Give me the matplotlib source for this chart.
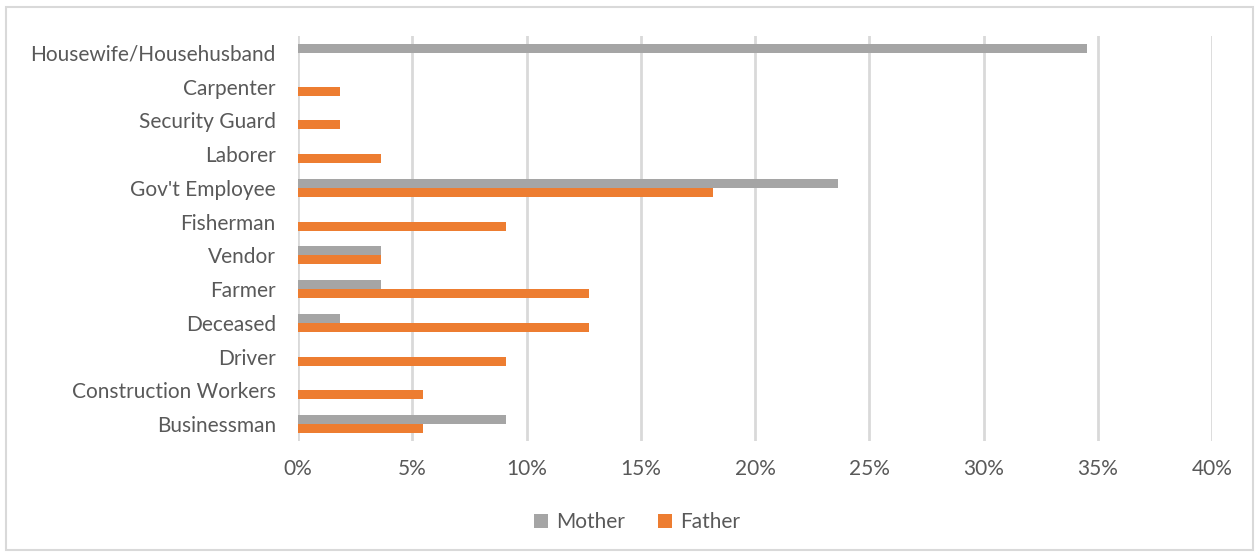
import matplotlib
matplotlib.use("Agg")
import matplotlib.pyplot as plt
import numpy as np
from matplotlib.patches import Rectangle
from matplotlib.ticker import FuncFormatter, MultipleLocator

categories = ["Businessman", "Construction Workers", "Driver", "Deceased", "Farmer",
              "Vendor", "Fisherman", "Gov't Employee", "Laborer", "Security Guard",
              "Carpenter", "Housewife/Househusband"]
mother = [9.09, 0, 0, 1.82, 3.64, 3.64, 0, 23.64, 0, 0, 0, 34.55]
father = [5.45, 5.45, 9.09, 12.73, 12.73, 3.64, 9.09, 18.18, 3.64, 1.82, 1.82, 0]

GRAY = "#A5A5A5"
ORANGE = "#ED7D31"
TEXT = "#595959"
GRID = "#D9D9D9"

plt.rcParams["font.family"] = ["Lato", "DejaVu Sans"]

fig = plt.figure(figsize=(12.59, 5.56), dpi=100)
fig.patches.append(Rectangle((6 / 1259, 6 / 556), 1247 / 1259, 543 / 556,
                             transform=fig.transFigure, fill=False,
                             edgecolor=GRID, linewidth=1.5))
ax = fig.add_axes([298 / 1259, 1 - 441 / 556, 914 / 1259, 405 / 556])

y = np.arange(len(categories))
h = 0.27
ax.barh(y + h / 2, mother, height=h, color=GRAY, label="Mother", zorder=3)
ax.barh(y - h / 2, father, height=h, color=ORANGE, label="Father", zorder=3)

ax.set_xlim(0, 40)
ax.set_ylim(-0.5, len(categories) - 0.5)
ax.xaxis.set_major_locator(MultipleLocator(5))
ax.xaxis.set_major_formatter(FuncFormatter(lambda v, p: f"{v:.0f}%"))
ax.set_yticks(y)
ax.set_yticklabels(categories)
ax.grid(axis="x", color=GRID, linewidth=2, zorder=0)
for s in ax.spines.values():
    s.set_visible(False)
ax.tick_params(axis="both", length=0, colors=TEXT, labelsize=15)
ax.tick_params(axis="x", pad=13)
ax.tick_params(axis="y", pad=16)

fig.legend(loc="center", bbox_to_anchor=(637 / 1259, 1 - 522 / 556), ncol=2,
           frameon=False, fontsize=15, labelcolor=TEXT, handlelength=0.65,
           handleheight=0.65, columnspacing=1.6, handletextpad=0.4)

fig.savefig("out.png", dpi=100, facecolor="white")
